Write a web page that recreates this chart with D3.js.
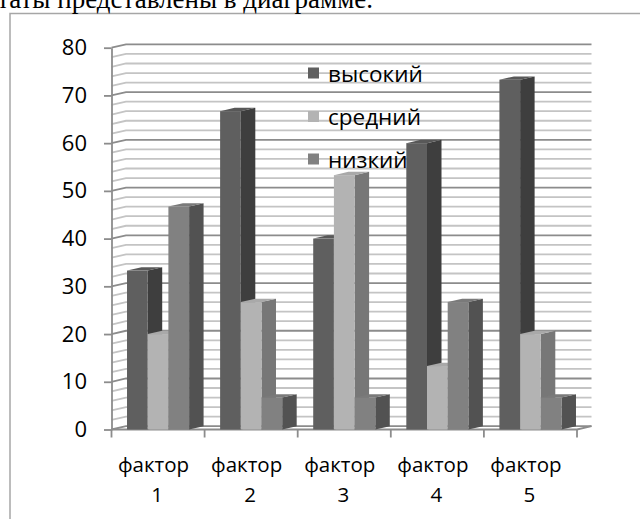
<!DOCTYPE html>
<html>
<head>
<meta charset="utf-8">
<script src="https://cdn.jsdelivr.net/npm/d3@7"></script>
<style>
  html, body { margin: 0; padding: 0; background: #ffffff; }
  svg { display: block; }
  .lbl { font-family: "Open Sans", "Noto Sans", sans-serif; fill: #000; }
</style>
</head>
<body>
<svg id="chart" width="640" height="519"></svg>
<script>
// Factor groups along the x axis
const categories = ["фактор 1", "фактор 2", "фактор 3", "фактор 4", "фактор 5"];
// Series shown in the legend
const seriesNames = ["высокий", "средний", "низкий"];
// Share of respondents (%) per level
const highValues = [33.3, 66.7, 40, 60, 73.3];
const midValues  = [20, 26.7, 53.3, 13.3, 20];
const lowValues  = [46.7, 6.7, 6.7, 26.7, 6.7];
// Value axis ticks
const yTicks = [0, 10, 20, 30, 40, 50, 60, 70, 80];
const yMinorStep = 2;

const seriesValues = [highValues, midValues, lowValues];
const shades = [
  { front: "#5f5f5f", top: "#585858", side: "#3e3e3e" },
  { front: "#b3b3b3", top: "#a9a9a9", side: "#777777" },
  { front: "#818181", top: "#7a7a7a", side: "#525252" }
];

const svg = d3.select("#chart");

// oblique depth offset for the 3-D box
const depth = { dx: 14.5, dy: -3.3 };

const x = d3.scaleBand().domain(categories).range([111.5, 577]).paddingInner(0).paddingOuter(0);
const xs = d3.scaleBand().domain(seriesNames).range([0, x.bandwidth()]).paddingInner(0).paddingOuter(0.75);
const y = d3.scaleLinear().domain([0, 80]).range([429.5, 47.7]);

// outer frame
svg.append("path")
  .attr("d", "M10,519 L10,13.5 L641,13.5")
  .attr("fill", "none").attr("stroke", "#a6a6a6").attr("stroke-width", 1.5);

// caption line above the frame (runs past the top-left edge of the page)
svg.append("text")
  .attr("x", 373).attr("y", 7.5)
  .attr("text-anchor", "end")
  .attr("font-family", "'Liberation Serif', 'Times New Roman', serif")
  .attr("font-size", 27)
  .text("Результаты представлены в диаграмме.");

// gridlines on side wall and back wall
const gridVals = d3.range(0, 80 + 0.001, yMinorStep);
const x0 = x.range()[0], x1 = x.range()[1];
const grid = svg.append("g");
gridVals.forEach(v => {
  const major = v % 10 === 0;
  const col = major ? "#8c8c8c" : "#c4c4c4";
  const yf = y(v), yb = y(v) + depth.dy;
  grid.append("path")
    .attr("d", `M${x0},${yf} L${x0 + depth.dx},${yb} L${x1 + depth.dx},${yb}`)
    .attr("fill", "none").attr("stroke", col).attr("stroke-width", 1.8);
});

// floor edges
svg.append("path")
  .attr("d", `M${x0},${y(0)} L${x1},${y(0)} L${x1 + depth.dx},${y(0) + depth.dy}`)
  .attr("fill", "none").attr("stroke", "#8c8c8c").attr("stroke-width", 1.8);

// category tick marks at group boundaries
const bounds = categories.map(c => x(c)).concat([x1]);
svg.append("g").selectAll("line").data(bounds).join("line")
  .attr("x1", d => d).attr("x2", d => d)
  .attr("y1", y(0)).attr("y2", y(0) + 8)
  .attr("stroke", "#8c8c8c").attr("stroke-width", 1.8);

// value axis
const yAxis = d3.axisLeft(y).tickValues(yTicks).tickSize(7.5).tickSizeOuter(0).tickPadding(17);
const ya = svg.append("g").attr("transform", `translate(${x0},0)`).call(yAxis);
ya.select(".domain").attr("stroke", "#8c8c8c").attr("stroke-width", 1.8);
ya.selectAll(".tick line").attr("stroke", "#8c8c8c").attr("stroke-width", 1.8);
ya.selectAll(".tick text")
  .attr("class", "lbl")
  .attr("font-size", 22)
  .attr("fill", "#000");

// bars as oblique boxes
const bars = svg.append("g");
categories.forEach((c, ci) => {
  seriesNames.forEach((s, si) => {
    const v = seriesValues[si][ci];
    const bx = x(c) + xs(s);
    const w = xs.bandwidth();
    const yt = y(v), yb = y(0);
    const sh = shades[si];
    // side face
    bars.append("path")
      .attr("d", `M${bx + w},${yt} L${bx + w + depth.dx},${yt + depth.dy} L${bx + w + depth.dx},${yb + depth.dy} L${bx + w},${yb} Z`)
      .attr("fill", sh.side);
    // top face
    bars.append("path")
      .attr("d", `M${bx},${yt} L${bx + w},${yt} L${bx + w + depth.dx},${yt + depth.dy} L${bx + depth.dx},${yt + depth.dy} Z`)
      .attr("fill", sh.top);
    // front face
    bars.append("rect")
      .attr("x", bx).attr("y", yt)
      .attr("width", w).attr("height", yb - yt)
      .attr("fill", sh.front);
  });
});

// category labels on two lines
const xl = svg.append("g");
categories.forEach(c => {
  const cx = x(c) + x.bandwidth() / 2;
  const parts = c.split(" ");
  xl.append("text").attr("class", "lbl").attr("font-size", 20.5)
    .attr("x", cx - 4.5).attr("y", 472).attr("text-anchor", "middle").text(parts[0]);
  xl.append("text").attr("class", "lbl").attr("font-size", 20.5)
    .attr("x", cx - 1).attr("y", 502).attr("text-anchor", "middle").text(parts[1]);
});

// legend
const legY = [73, 116.5, 159];
const leg = svg.append("g");
seriesNames.forEach((s, i) => {
  leg.append("rect")
    .attr("x", 308).attr("y", legY[i] - 5.5)
    .attr("width", 11).attr("height", 11)
    .attr("fill", shades[i].front);
  leg.append("text").attr("class", "lbl").attr("font-size", 22.5)
    .attr("x", 328).attr("y", legY[i])
    .attr("dominant-baseline", "central")
    .text(s);
});
</script>
</body>
</html>
